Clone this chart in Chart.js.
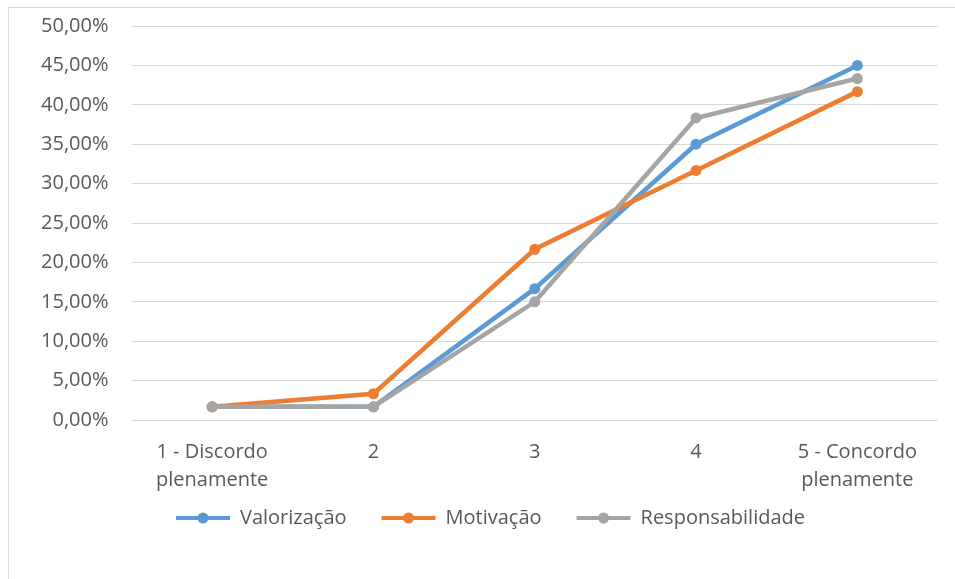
<!DOCTYPE html>
<html>
<head>
<meta charset="utf-8">
<script src="https://cdn.jsdelivr.net/npm/chart.js@4"></script>
<style>
  html, body { margin: 0; padding: 0; background: #fff; overflow: hidden; }
  #box {
    position: absolute; left: 8px; top: 7px;
    width: 960px; height: 590px;
    border: 1px solid #d9d9d9;
  }
  #wrap { position: absolute; left: 0; top: 0; width: 946px; height: 571px; }
</style>
</head>
<body>
<div id="box"><div id="wrap"><canvas id="myChart"></canvas></div></div>
<script>
const categories = [
  ["1 - Discordo", "plenamente"],
  "2",
  "3",
  "4",
  ["5 - Concordo", "plenamente"],
];
const seriesNames = ["Valorização", "Motivação", "Responsabilidade"];
const valorizacao = [1.67, 1.67, 16.67, 35.0, 45.0];
const motivacao = [1.67, 3.33, 21.67, 31.67, 41.67];
const responsabilidade = [1.67, 1.67, 15.0, 38.33, 43.33];
const colors = ["#5B9BD5", "#ED7D31", "#A5A5A5"];

const font = { family: "'Open Sans', sans-serif", size: 20, lineHeight: 1.4 };
const textColor = "#595959";

const myChart = document.querySelector("#myChart").getContext("2d");

const makeSet = (i, data) => ({
  label: seriesNames[i],
  data: data,
  borderColor: colors[i],
  backgroundColor: colors[i],
  borderWidth: 4.5,
  pointRadius: 5.5,
  pointHoverRadius: 5.5,
  pointBackgroundColor: colors[i],
  pointBorderWidth: 0,
  tension: 0,
  order: 3 - i,
});

// nudge legend a bit (right and up) + dot in the middle of each legend line
const legendDots = {
  id: "legendDots",
  afterLayout(chart) {
    const lg = chart.legend;
    if (!lg) return;
    lg.left += 17;
    lg.right += 17;
    lg.top -= 25;
    lg.bottom -= 25;
  },
  afterDraw(chart) {
    const legend = chart.legend;
    if (!legend || !legend.legendHitBoxes) return;
    const ctx = chart.ctx;
    const bw = legend.options.labels.boxWidth;
    legend.legendHitBoxes.forEach((hb, i) => {
      const item = legend.legendItems[i];
      ctx.save();
      ctx.fillStyle = item.fillStyle;
      ctx.beginPath();
      ctx.arc(hb.left + bw / 2, hb.top + hb.height / 2, 5.5, 0, Math.PI * 2);
      ctx.fill();
      ctx.restore();
    });
  },
};

const lineChart = new Chart(myChart, {
  type: "line",
  data: {
    labels: categories,
    datasets: [
      makeSet(0, valorizacao),
      makeSet(1, motivacao),
      makeSet(2, responsabilidade),
    ],
  },
  options: {
    responsive: true,
    maintainAspectRatio: false,
    animation: false,
    layout: {
      padding: { top: 18, right: 17, bottom: 16, left: 0 },
    },
    plugins: {
      tooltip: { enabled: false },
      legend: {
        position: "bottom",
        labels: {
          boxWidth: 54,
          boxHeight: 4,
          padding: 35,
          color: textColor,
          font: font,
          sort: (a, b) => a.datasetIndex - b.datasetIndex,
          generateLabels: (chart) =>
            Chart.defaults.plugins.legend.labels
              .generateLabels(chart)
              .map((it) => ({ ...it, lineWidth: 0, fillStyle: colors[it.datasetIndex] })),
        },
      },
    },
    scales: {
      x: {
        offset: true,
        grid: { display: false },
        border: { display: false },
        ticks: { color: textColor, font: font, maxRotation: 0, padding: 10 },
        afterFit: (scale) => { scale.height = 78; },
      },
      y: {
        min: 0,
        max: 50,
        grid: { color: "#d9d9d9", lineWidth: 1, drawTicks: false },
        border: { display: false },
        ticks: {
          stepSize: 5,
          color: textColor,
          font: font,
          padding: 23,
          callback: (v) => v.toFixed(2).replace(".", ",") + "%",
        },
        afterFit: (scale) => {
          scale.width = 122.5;
          scale.paddingTop = 0;
          scale.paddingBottom = 0;
        },
      },
    },
  },
  plugins: [legendDots],
});
</script>
</body>
</html>
